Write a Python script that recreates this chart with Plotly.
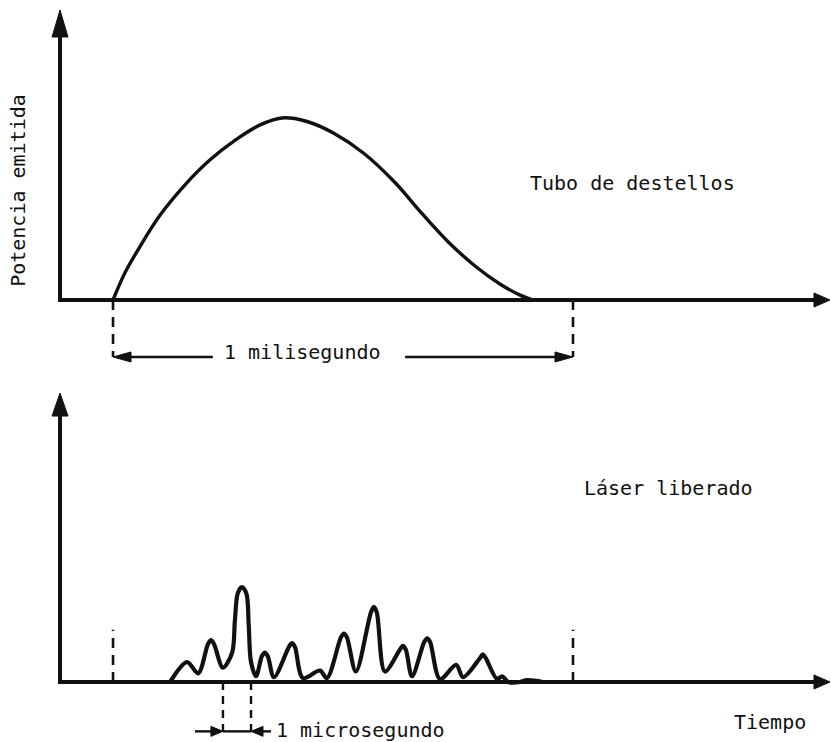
import plotly.graph_objects as go

# ---- data -----------------------------------------------------------------
# time axis in milliseconds from flash-lamp ignition (0 .. 1 ms window)
# flash-tube emission, power normalised to its peak
flash_t = [0.0, 0.026, 0.059, 0.102, 0.157, 0.211, 0.265, 0.320, 0.367, 0.420,
           0.480, 0.545, 0.612, 0.672, 0.730, 0.787, 0.841, 0.885, 0.913]
flash_p = [0.0, 0.150, 0.295, 0.465, 0.634, 0.770, 0.877, 0.962, 1.000, 0.982,
           0.916, 0.806, 0.648, 0.474, 0.316, 0.187, 0.088, 0.027, 0.0]

# free-running laser output: train of relaxation spikes, normalised to tallest spike
laser_t = [0.124, 0.161, 0.185, 0.2065, 0.213, 0.2195, 0.239, 0.259, 0.265, 0.271,
           0.280, 0.290, 0.295, 0.300, 0.311, 0.3235, 0.330, 0.3365, 0.350, 0.3825,
           0.389, 0.3955, 0.413, 0.450, 0.465, 0.4955, 0.502, 0.5085, 0.528, 0.5605,
           0.567, 0.5735, 0.591, 0.6235, 0.630, 0.6365, 0.650, 0.6765, 0.683, 0.6895,
           0.711, 0.746, 0.761, 0.7975, 0.804, 0.8105, 0.835, 0.846, 0.859, 0.885,
           0.900, 0.935]
laser_p = [0.00, 0.21, 0.09, 0.40, 0.44, 0.40, 0.15, 0.31, 0.65, 0.93,
           1.00, 0.93, 0.60, 0.21, 0.06, 0.27, 0.31, 0.27, 0.05, 0.37,
           0.41, 0.37, 0.04, 0.12, 0.04, 0.47, 0.51, 0.47, 0.11, 0.73,
           0.79, 0.73, 0.11, 0.34, 0.38, 0.34, 0.06, 0.42, 0.46, 0.42,
           0.03, 0.18, 0.05, 0.25, 0.29, 0.25, 0.03, 0.06, 0.00, 0.00,
           0.02, 0.00]

window_ms = [0.0, 1.0]          # 1 millisecond flash window
spike_us = [0.239, 0.300]       # one microsecond between marks

labels = {
    "ylabel": "Potencia emitida",
    "top": "Tubo de destellos",
    "bottom": "Láser liberado",
    "ms": "1 milisegundo",
    "us": "1 microsegundo",
    "xlabel": "Tiempo",
}

# ---- geometry of the drawing -----------------------------------------------
X_RANGE = [-0.2457, 1.5609]     # 460 px per ms
Y1_RANGE = [-0.390, 1.648]      # 182 px per unit (top panel)
Y2_RANGE = [-0.632, 3.274]      # 95 px per unit (bottom panel)
PX_X, PX_Y1, PX_Y2 = 460.0, 182.0, 95.0

AXIS_T = -0.1152                # vertical axis position
XTIP = 1.5587                   # horizontal axis arrow tip
Y1TIP, Y2TIP = 1.593, 3.042     # vertical axis arrow tips

INK = "#111111"
FONT = dict(family="DejaVu Sans Mono", size=20, color=INK)

fig = go.Figure()

fig.add_trace(go.Scatter(x=flash_t, y=flash_p, mode="lines", xaxis="x", yaxis="y",
                         line=dict(color=INK, width=3.4, shape="spline", smoothing=1.0),
                         hoverinfo="skip", showlegend=False))
fig.add_trace(go.Scatter(x=laser_t, y=laser_p, mode="lines", xaxis="x2", yaxis="y2",
                         line=dict(color=INK, width=4.2, shape="spline", smoothing=0.9),
                         hoverinfo="skip", showlegend=False))

shapes = []


def line(xr, yr, x0, y0, x1, y1, width=3.0, dash=None):
    d = dict(type="line", xref=xr, yref=yr, x0=x0, y0=y0, x1=x1, y1=y1,
             line=dict(color=INK, width=width))
    if dash:
        d["line"]["dash"] = dash
    shapes.append(d)


def head(xr, yr, x, y, direction, length, half):
    if direction == "up":
        p = f"M0,0 L{-half},{-length} L{half},{-length} Z"
    elif direction == "right":
        p = f"M0,0 L{-length},{half} L{-length},{-half} Z"
    else:
        p = f"M0,0 L{length},{half} L{length},{-half} Z"
    shapes.append(dict(type="path", xref=xr, yref=yr, xsizemode="pixel", ysizemode="pixel",
                       xanchor=x, yanchor=y, path=p, fillcolor=INK,
                       line=dict(color=INK, width=1)))


def axes(xr, yr, ytip, py, yhead):
    shapes.append(dict(type="path", xref=xr, yref=yr,
                       path=(f"M{XTIP - 8 / PX_X},0 L{AXIS_T},0 "
                             f"L{AXIS_T},{ytip - yhead * 0.6 / py}"),
                       line=dict(color=INK, width=4)))
    head(xr, yr, XTIP, 0, "right", 16, 7)
    head(xr, yr, AXIS_T, ytip, "up", yhead, 8)


DASH = "10px,7px"

# top panel
axes("x", "y", Y1TIP, PX_Y1, 27)
ybr = -0.313
line("x", "y", window_ms[0], 0, window_ms[0], ybr, 2.6, DASH)
line("x", "y", window_ms[1], 0, window_ms[1], ybr, 2.6, DASH)
line("x", "y", window_ms[0] + 10 / PX_X, ybr, 0.217, ybr, 2.6)
head("x", "y", window_ms[0], ybr, "left", 18, 5)
line("x", "y", 0.635, ybr, window_ms[1] - 10 / PX_X, ybr, 2.6)
head("x", "y", window_ms[1], ybr, "right", 18, 5)

# bottom panel
axes("x2", "y2", Y2TIP, PX_Y2, 23)
line("x2", "y2", window_ms[0], 0, window_ms[0], 0.55, 2.6, DASH)
line("x2", "y2", window_ms[1], 0, window_ms[1], 0.55, 2.6, DASH)
ybu = -0.52
line("x2", "y2", spike_us[0], 0, spike_us[0], ybu, 2.4, "8px,6px")
line("x2", "y2", spike_us[1], 0, spike_us[1], ybu, 2.4, "8px,6px")
line("x2", "y2", spike_us[0] - 28 / PX_X, ybu, spike_us[0] - 8 / PX_X, ybu, 2.4)
head("x2", "y2", spike_us[0], ybu, "right", 12, 5)
line("x2", "y2", spike_us[0], ybu, spike_us[1], ybu, 2.4)
line("x2", "y2", spike_us[1] + 8 / PX_X, ybu, spike_us[1] + 20 / PX_X, ybu, 2.4)
head("x2", "y2", spike_us[1], ybu, "left", 12, 5)

annotations = [
    dict(text=labels["ylabel"], xref="x", yref="y", x=-0.207, y=0.604, textangle=-90,
         showarrow=False, font=FONT),
    dict(text=labels["top"], xref="x", yref="y", x=0.902, y=0.643, xanchor="left",
         showarrow=False, font=FONT),
    dict(text=labels["ms"], xref="x", yref="y", x=0.413, y=-0.286,
         showarrow=False, font=FONT),
    dict(text=labels["bottom"], xref="x2", yref="y2", x=1.020, y=2.04, xanchor="left",
         showarrow=False, font=FONT),
    dict(text=labels["us"], xref="x2", yref="y2", x=0.352, y=-0.505, xanchor="left",
         showarrow=False, font=FONT, borderpad=0),
    dict(text=labels["xlabel"], xref="x2", yref="y2", x=1.346, y=-0.421, xanchor="left",
         showarrow=False, font=FONT),
]

hidden = dict(visible=False, showgrid=False, zeroline=False, fixedrange=True)
fig.update_layout(
    width=831, height=742,
    margin=dict(l=0, r=0, t=0, b=0),
    paper_bgcolor="white", plot_bgcolor="white",
    xaxis=dict(domain=[0, 1], range=X_RANGE, anchor="y", **hidden),
    yaxis=dict(domain=[0.5, 1], range=Y1_RANGE, anchor="x", **hidden),
    xaxis2=dict(domain=[0, 1], range=X_RANGE, anchor="y2", **hidden),
    yaxis2=dict(domain=[0, 0.5], range=Y2_RANGE, anchor="x2", **hidden),
    shapes=shapes,
    annotations=annotations,
    showlegend=False,
)

fig.write_html("out.html")
